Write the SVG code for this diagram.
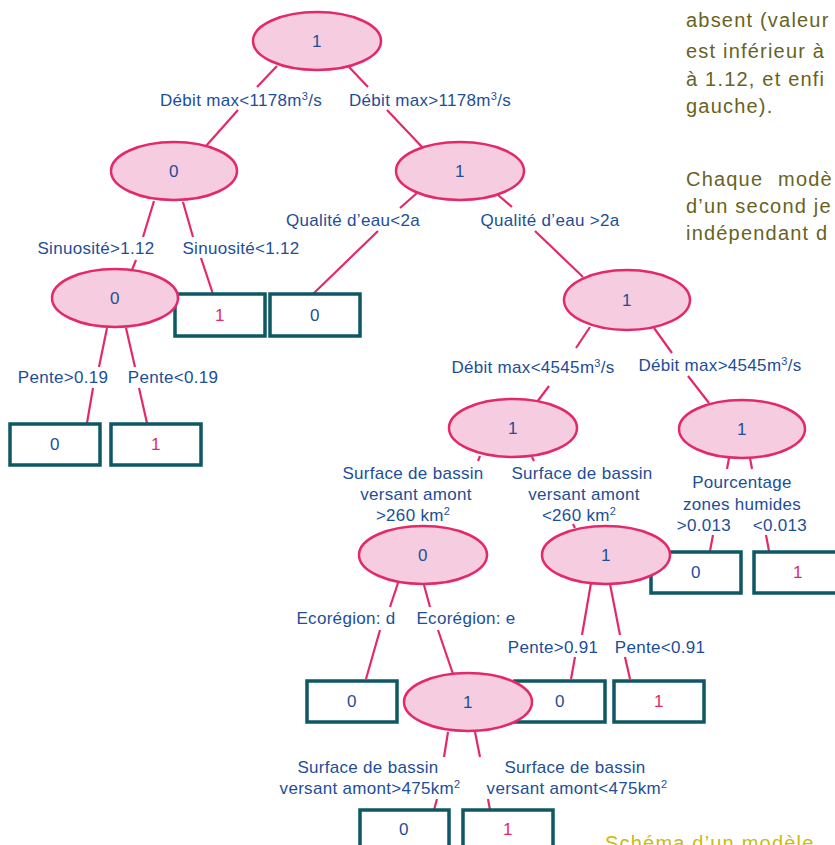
<svg xmlns="http://www.w3.org/2000/svg" width="835" height="845" viewBox="0 0 835 845">
<style>
.e{fill:#f6cde0;stroke:#e3296a;stroke-width:2.5}
.b{fill:#fff;stroke:#0e5866;stroke-width:3.5}
.c{stroke:#e3296a;stroke-width:2.2;fill:none;stroke-linecap:butt}
.t{font-family:"Liberation Sans",Arial,sans-serif;font-size:17px;fill:#1d4e98;text-anchor:middle;letter-spacing:0.3px}
.p{fill:#e3296a}
.s{font-size:11px}
.r{font-family:"Liberation Sans",Arial,sans-serif;font-size:20px;fill:#67631f;letter-spacing:1.2px}
.y{font-family:"Liberation Sans",Arial,sans-serif;font-size:20px;fill:#c9bb12;letter-spacing:1.2px}
</style>
<rect width="835" height="845" fill="#fff"/>
<g id="connectors">
<path class="c" d="M277,66L257,87M238,110L206,146"/>
<path class="c" d="M349,67L368,87M387,110L423,148"/>
<path class="c" d="M154,201L143,237M136,260L132,270"/>
<path class="c" d="M183,202L193,237M201,258L213,294"/>
<path class="c" d="M417,193L400,208M378,231L313,294"/>
<path class="c" d="M498,195L512,207M535,231L583,277"/>
<path class="c" d="M107,328L99,367M93,388L87,423"/>
<path class="c" d="M126,328L135,367M139,388L147,423"/>
<path class="c" d="M590,327L576,348M549,386L537,402"/>
<path class="c" d="M654,328L672,353M688,376L709,403"/>
<path class="c" d="M480,456L478,461"/>
<path class="c" d="M532,457L534,461M573,524L575,528"/>
<path class="c" d="M729,458L727,469M713,535L710,551"/>
<path class="c" d="M750,458L752,469M766,535L769,551"/>
<path class="c" d="M398,583L390,607M380,630L366,679"/>
<path class="c" d="M424,585L430,607M438,630L453,674"/>
<path class="c" d="M591,583L582,635M575,657L571,679"/>
<path class="c" d="M610,584L620,635M625,657L630,679"/>
<path class="c" d="M448,732L444,757M437,799L434,810"/>
<path class="c" d="M475,732L480,757M488,799L490,810"/>
</g>
<g id="leaf1"><rect class="b" x="175" y="294" width="90" height="42"/><text class="t p" x="220" y="321">1</text></g>
<g id="leaf2"><rect class="b" x="270" y="294" width="90" height="42"/><text class="t" x="315" y="321">0</text></g>
<g id="leaf3"><rect class="b" x="10" y="424" width="90" height="41"/><text class="t" x="55" y="450">0</text></g>
<g id="leaf4"><rect class="b" x="111" y="424" width="90" height="41"/><text class="t p" x="156" y="450">1</text></g>
<g id="leaf5"><rect class="b" x="651" y="552" width="90" height="41"/><text class="t" x="696" y="578">0</text></g>
<g id="leaf6"><rect class="b" x="754" y="552" width="90" height="41"/><text class="t p" x="798" y="578">1</text></g>
<g id="leaf7"><rect class="b" x="307" y="681" width="90" height="41"/><text class="t" x="352" y="707">0</text></g>
<g id="leaf8"><rect class="b" x="515" y="681" width="90" height="41"/><text class="t" x="560" y="707">0</text></g>
<g id="leaf9"><rect class="b" x="614" y="681" width="90" height="41"/><text class="t p" x="659" y="707">1</text></g>
<g id="leaf10"><rect class="b" x="360" y="810" width="89" height="42"/><text class="t" x="404" y="835">0</text></g>
<g id="leaf11"><rect class="b" x="463" y="810" width="90" height="42"/><text class="t p" x="508" y="835">1</text></g>
<g id="n1"><ellipse class="e" cx="317" cy="41" rx="64" ry="29"/><text class="t" x="317" y="47">1</text></g>
<g id="n2"><ellipse class="e" cx="174" cy="171" rx="63" ry="29"/><text class="t" x="174" y="177">0</text></g>
<g id="n3"><ellipse class="e" cx="460" cy="171" rx="64" ry="29"/><text class="t" x="460" y="177">1</text></g>
<g id="n4"><ellipse class="e" cx="115" cy="298" rx="63" ry="29"/><text class="t" x="115" y="304">0</text></g>
<g id="n5"><ellipse class="e" cx="627" cy="300" rx="63" ry="30"/><text class="t" x="627" y="306">1</text></g>
<g id="n6"><ellipse class="e" cx="513" cy="428" rx="64" ry="29"/><text class="t" x="513" y="434">1</text></g>
<g id="n7"><ellipse class="e" cx="742" cy="429" rx="63" ry="29"/><text class="t" x="742" y="435">1</text></g>
<g id="n8"><ellipse class="e" cx="423" cy="555" rx="64" ry="29"/><text class="t" x="423" y="561">0</text></g>
<g id="n9"><ellipse class="e" cx="606" cy="555" rx="64" ry="29"/><text class="t" x="606" y="561">1</text></g>
<g id="n10"><ellipse class="e" cx="468" cy="702" rx="64" ry="29"/><text class="t" x="468" y="708">1</text></g>
<g id="labels">
<text class="t" x="241" y="106">Débit max&lt;1178m<tspan class="s" dy="-6">3</tspan><tspan dy="6">/s</tspan></text>
<text class="t" x="430" y="106">Débit max&gt;1178m<tspan class="s" dy="-6">3</tspan><tspan dy="6">/s</tspan></text>
<text class="t" x="96" y="254">Sinuosité&gt;1.12</text>
<text class="t" x="241" y="254">Sinuosité&lt;1.12</text>
<text class="t" x="353" y="226">Qualité d’eau&lt;2a</text>
<text class="t" x="550" y="226">Qualité d’eau &gt;2a</text>
<text class="t" x="63" y="383">Pente&gt;0.19</text>
<text class="t" x="173" y="383">Pente&lt;0.19</text>
<text class="t" x="533" y="373">Débit max&lt;4545m<tspan class="s" dy="-6">3</tspan><tspan dy="6">/s</tspan></text>
<text class="t" x="720" y="371">Débit max&gt;4545m<tspan class="s" dy="-6">3</tspan><tspan dy="6">/s</tspan></text>
<text class="t" x="413" y="479">Surface de bassin</text>
<text class="t" x="416" y="500">versant amont</text>
<text class="t" x="413" y="521">&gt;260 km<tspan class="s" dy="-6">2</tspan></text>
<text class="t" x="582" y="479">Surface de bassin</text>
<text class="t" x="584" y="500">versant amont</text>
<text class="t" x="579" y="521">&lt;260 km<tspan class="s" dy="-6">2</tspan></text>
<text class="t" x="742" y="488">Pourcentage</text>
<text class="t" x="742" y="510">zones humides</text>
<text class="t" x="704" y="531">&gt;0.013</text>
<text class="t" x="780" y="531">&lt;0.013</text>
<text class="t" x="346" y="624">Ecorégion: d</text>
<text class="t" x="466" y="624">Ecorégion: e</text>
<text class="t" x="553" y="653">Pente&gt;0.91</text>
<text class="t" x="660" y="653">Pente&lt;0.91</text>
<text class="t" x="368" y="773">Surface de bassin</text>
<text class="t" x="370" y="794">versant amont&gt;475km<tspan class="s" dy="-6">2</tspan></text>
<text class="t" x="575" y="773">Surface de bassin</text>
<text class="t" x="577" y="794">versant amont&lt;475km<tspan class="s" dy="-6">2</tspan></text>
</g>
<g id="sidetext">
<text class="r" x="686" y="27">absent (valeur</text>
<text class="r" x="686" y="58">est inférieur à</text>
<text class="r" x="686" y="86">à 1.12, et enfi</text>
<text class="r" x="686" y="113">gauche).</text>
<text class="r" x="686" y="186" word-spacing="8">Chaque modè</text>
<text class="r" x="686" y="213">d’un second je</text>
<text class="r" x="686" y="240">indépendant d</text>
<text class="y" x="605" y="850">Schéma d’un modèle</text>
</g>
</svg>
